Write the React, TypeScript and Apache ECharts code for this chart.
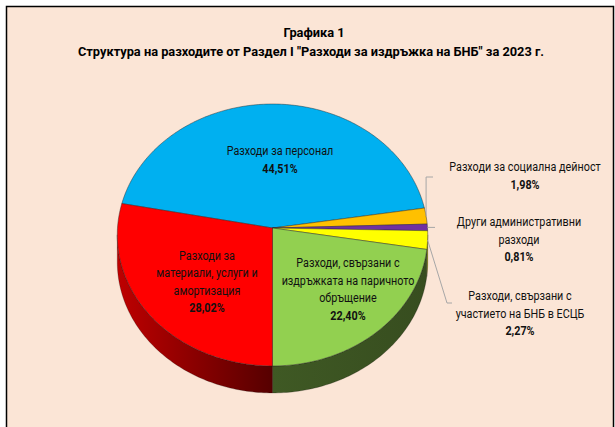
import React, { useEffect, useRef } from 'react';
import * as echarts from 'echarts';

// ---------- data ----------
const CATEGORIES = [
  'Разходи за персонал',
  'Разходи за социална дейност',
  'Други административни разходи',
  'Разходи, свързани с участието на БНБ в ЕСЦБ',
  'Разходи, свързани с издръжката на паричното обръщение',
  'Разходи за материали, услуги и амортизация',
];
const LABEL_LINES = [
  ['Разходи за персонал'],
  ['Разходи за социална дейност'],
  ['Други административни', 'разходи'],
  ['Разходи, свързани с', 'участието на БНБ в ЕСЦБ'],
  ['Разходи, свързани с', 'издръжката на паричното', 'обръщение'],
  ['Разходи за', 'материали, услуги и', 'амортизация'],
];
const VALUES = [44.51, 1.98, 0.81, 2.27, 22.4, 28.02];
const TITLE_LINE1 = 'Графика 1';
const TITLE_LINE2 = 'Структура на разходите от Раздел I "Разходи за издръжка на БНБ" за 2023 г.';

// ---------- style / layout ----------
const COLORS = ['#00B0F0', '#FFC000', '#7030A0', '#FFFF00', '#92D050', '#FF0000'];
const SIDE_COLORS = [
  ['#006E96', '#004F6C'],
  ['#B38600', '#806000'],
  ['#4A2070', '#351650'],
  ['#B3B300', '#8A8A00'],
  ['#3F5924', '#374D1F'],
  ['#BE0000', '#560000'],
];
const BG = '#FBE5D6';
const FONT = "Roboto, 'Liberation Sans', sans-serif";
const LABEL_SIZE = 13;
const LABEL_SCALE_X = 0.83;
const TITLE_SIZE = 13;
const TITLE_SCALE_X = 0.985;
const CX = 272.5;
const CY = 228;
const RX = 155;
const RY = 130.6;
const PERSP = 0.0533;
const DEPTH = 27;
const FIRST_ANGLE = 169.1;
const LABEL_POS = [
  [280, 159.5],
  [525, 175.5],
  [519, 239.5],
  [520, 313.5],
  [348, 289],
  [207, 281.5],
];
// label-side anchor points of leader lines (0 = take from slice rim point)
const LEADER_ANCHORS: (number[][] | null)[] = [
  null,
  [[433, 177], [0, 177]],
  [[435, 0]],
  [[452, 303], [447, 303]],
  null,
  null,
];

const TOTAL = VALUES.reduce((a, b) => a + b, 0);
const STARTS = VALUES.map(
  (_, i) => FIRST_ANGLE - (VALUES.slice(0, i).reduce((a, b) => a + b, 0) / TOTAL) * 360
);

function proj(deg: number) {
  const r = (deg * Math.PI) / 180;
  const c = Math.cos(r);
  const s = Math.sin(r);
  const w = 1 + PERSP * s;
  return [CX + (RX * c) / w, CY - (RY * s) / w];
}

function arc(a0: number, a1: number) {
  const n = Math.max(2, Math.ceil(Math.abs(a0 - a1)) + 1);
  const pts: number[][] = [];
  for (let k = 0; k < n; k++) pts.push(proj(a0 - ((a0 - a1) * k) / (n - 1)));
  return pts;
}

function fmtPct(v: number) {
  return v.toFixed(2).replace('.', ',') + '%';
}

export default function App() {
  const ref = useRef<HTMLDivElement>(null);
  useEffect(() => {
    if (!ref.current) return;
    const chart = echarts.init(ref.current, null, { renderer: 'svg' });

    const renderItem = (params: any, api: any) => {
      const i = params.dataIndex;
      const v = api.value(0);
      const a0 = STARTS[i];
      const a1 = a0 - (v / TOTAL) * 360;
      const children: any[] = [];
      for (const k of [-1, 0, 1]) {
        const lo = Math.max(a1, -177 + 360 * k);
        const hi = Math.min(a0, -3 + 360 * k);
        if (hi > lo) {
          const top = arc(hi, lo);
          const bottom = top.map((p) => [p[0], p[1] + DEPTH]).reverse();
          children.push({
            type: 'polygon',
            z2: 1,
            shape: { points: top.concat(bottom) },
            style: {
              fill: new echarts.graphic.LinearGradient(0, 0, 1, 0, [
                { offset: 0, color: SIDE_COLORS[i][0] },
                { offset: 1, color: SIDE_COLORS[i][1] },
              ]),
              stroke: 'rgba(0,0,0,0.45)',
              lineWidth: 0.5,
            },
          });
        }
      }
      children.push({
        type: 'polygon',
        z2: 10,
        shape: { points: [[CX, CY]].concat(arc(a0, a1)) },
        style: { fill: COLORS[i], stroke: 'rgba(40,40,40,0.75)', lineWidth: 0.6 },
      });
      const anchors = LEADER_ANCHORS[i];
      if (anchors) {
        const rim = proj((a0 + a1) / 2);
        const pts = anchors.map((p) => [p[0] === 0 ? rim[0] : p[0], p[1] === 0 ? rim[1] : p[1]]);
        pts.push(rim);
        children.push({
          type: 'polyline',
          z2: 20,
          shape: { points: pts },
          style: { stroke: '#A6A6A6', lineWidth: 1, fill: null },
        });
      }
      const text =
        LABEL_LINES[i].map((l) => `{n|${l}}`).join('\n') + `\n{v|${fmtPct(v)}}`;
      children.push({
        type: 'text',
        z2: 30,
        x: LABEL_POS[i][0],
        y: LABEL_POS[i][1],
        scaleX: LABEL_SCALE_X,
        style: {
          text,
          align: 'center',
          verticalAlign: 'middle',
          rich: {
            n: { fontSize: LABEL_SIZE, fontFamily: FONT, fill: '#111', lineHeight: 17.5, align: 'center' },
            v: { fontSize: LABEL_SIZE, fontFamily: FONT, fontWeight: 'bold', fill: '#111', lineHeight: 17.5, align: 'center' },
          },
        },
      });
      return { type: 'group', children };
    };

    chart.setOption({
      animation: false,
      backgroundColor: '#ffffff',
      graphic: [
        {
          type: 'rect',
          z: -10,
          shape: { x: 6.5, y: 6.5, width: 607, height: 440 },
          style: { fill: BG, stroke: '#000', lineWidth: 1.5 },
        },
        {
          type: 'text',
          x: 314,
          y: 32,
          scaleX: TITLE_SCALE_X,
          style: {
            text: TITLE_LINE1,
            align: 'center',
            verticalAlign: 'middle',
            font: `bold ${TITLE_SIZE}px ${FONT}`,
            fill: '#000',
          },
        },
        {
          type: 'text',
          x: 311,
          y: 51,
          scaleX: TITLE_SCALE_X,
          style: {
            text: TITLE_LINE2,
            align: 'center',
            verticalAlign: 'middle',
            font: `bold ${TITLE_SIZE}px ${FONT}`,
            fill: '#000',
          },
        },
      ],
      series: [
        {
          type: 'custom',
          coordinateSystem: 'none',
          name: 'Разходи',
          data: VALUES.map((v, i) => ({ name: CATEGORIES[i], value: [v] })),
          renderItem,
        },
      ],
    });
    return () => chart.dispose();
  }, []);
  return (
    <div
      ref={ref}
      style={{ position: 'fixed', left: 0, top: 0, width: 615, height: 427 }}
    />
  );
}
